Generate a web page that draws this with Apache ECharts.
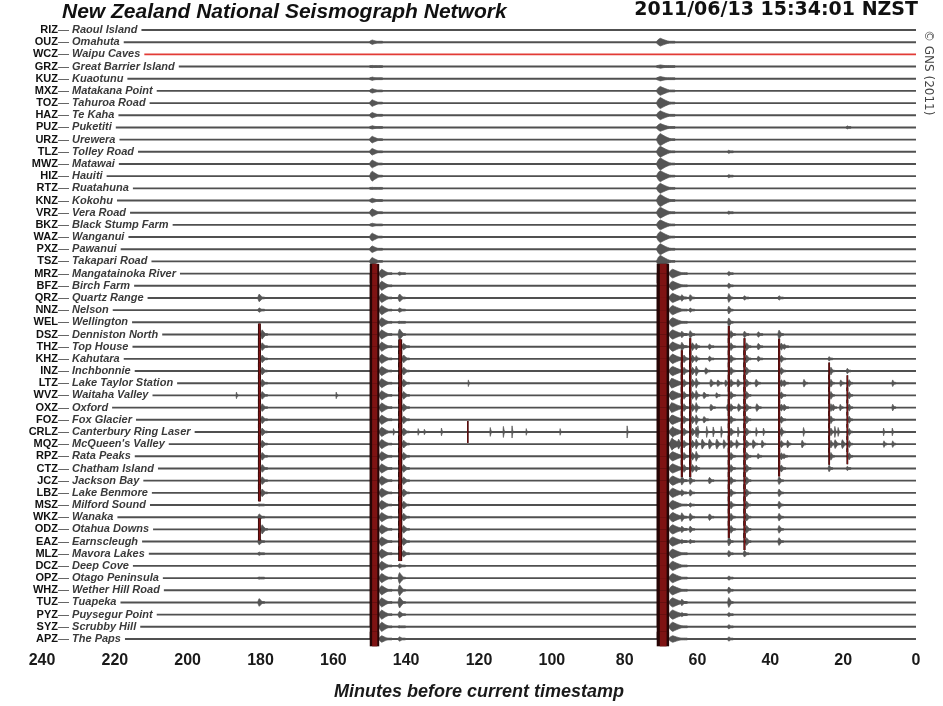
<!DOCTYPE html>
<html><head><meta charset="utf-8">
<script src="https://cdn.jsdelivr.net/npm/echarts@6/dist/echarts.min.js"></script>
<style>html,body{margin:0;padding:0;background:#fff}#c{width:943px;height:706px}</style>
</head><body><div id="c"></div>
<script>
const stations = ['RIZ','OUZ','WCZ','GRZ','KUZ','MXZ','TOZ','HAZ','PUZ','URZ','TLZ','MWZ','HIZ','RTZ','KNZ','VRZ','BKZ','WAZ','PXZ','TSZ','MRZ','BFZ','QRZ','NNZ','WEL','DSZ','THZ','KHZ','INZ','LTZ','WVZ','OXZ','FOZ','CRLZ','MQZ','RPZ','CTZ','JCZ','LBZ','MSZ','WKZ','ODZ','EAZ','MLZ','DCZ','OPZ','WHZ','TUZ','PYZ','SYZ','APZ'];
const stationNames = ['Raoul Island','Omahuta','Waipu Caves','Great Barrier Island','Kuaotunu','Matakana Point','Tahuroa Road','Te Kaha','Puketiti','Urewera','Tolley Road','Matawai','Hauiti','Ruatahuna','Kokohu','Vera Road','Black Stump Farm','Wanganui','Pawanui','Takapari Road','Mangatainoka River','Birch Farm','Quartz Range','Nelson','Wellington','Denniston North','Top House','Kahutara','Inchbonnie','Lake Taylor Station','Waitaha Valley','Oxford','Fox Glacier','Canterbury Ring Laser',"McQueen's Valley",'Rata Peaks','Chatham Island','Jackson Bay','Lake Benmore','Milford Sound','Wanaka','Otahua Downs','Earnscleugh','Mavora Lakes','Deep Cove','Otago Peninsula','Wether Hill Road','Tuapeka','Puysegur Point','Scrubby Hill','The Paps'];

// regional quakes: onset (minutes before timestamp), clipped duration, coda duration
const quakeOnsets   = [180.7, 150, 142.2, 71.2, 64.6, 62.3, 60.6, 51.7, 47.4, 37.9, 24.1, 19.1];
const clipDurations = [0.8, 2.6, 1.1, 3.4, 0.6, 0.6, 0.5, 0.6, 0.6, 0.6, 0.5, 0.5];
const codaDurations = [1.8, 3.5, 2, 5, 1.5, 1.5, 1.2, 1.5, 1.5, 1.5, 1.2, 1.2];

// amplitude per station (in trace spacings), order as stations
const amp180 = [0,0,0,0,0,0,0,0,0,0, 0,0,0,0,0,0,0,0,0,0, 0,0,.35,.2,0,.9,.7,.7,.7,.7, .7,.7,.7,.7,.7,.7,.7,.7,.7,.1, .3,.9,.3,.15,0,.1,0,.35,0,0, 0];
const amp150 = [0,.2,0,.1,.15,.2,.3,.25,.15,.3, .3,.35,.45,.1,.2,.35,.15,.35,.3,.35, .8,1,1,1,1,1,1,1,1,1, 1,1,1,1,1,1,1,1,1,1, 1,1,1,1,1,1,1,1,1,1, .6];
const amp142 = [0,0,0,0,0,0,0,0,0,0, 0,0,0,0,0,0,0,0,0,0, .15,0,.35,.2,.1,.5,.6,.7,.7,.7, .7,.7,.7,.7,.7,.7,.7,.7,.7,.7, .7,.7,.7,.6,.2,.5,.5,.5,.3,.1, .2];
const amp71  = [0,.35,0,.15,.2,.4,.5,.4,.35,.55, .5,.55,.5,.45,.55,.5,.45,.5,.5,.55, .8,1,1,1,1,1,1,1,1,1, 1,1,1,1,1,1,1,1,1,1, 1,1,1,1,1,1,1,1,1,1, .6];
const amp65  = [0,0,0,0,0,0,0,0,0,0, 0,0,0,0,0,0,0,0,0,0, 0,0,.3,0,0,.3,.4,.7,.7,.7, .7,.7,.7,.7,.7,.7,.7,.4,.3,0, .4,.3,.2,0,0,0,0,.3,.2,0, 0];
const amp62  = [0,0,0,0,0,0,0,0,0,0, 0,0,0,0,0,0,0,0,0,0, 0,0,.3,.2,0,.35,.7,.7,.7,.7, .7,.7,.7,.7,.7,.7,.7,.35,.3,.2, .35,.3,.2,0,0,0,0,0,0,0, 0];
const amp61  = [0,0,0,0,0,0,0,0,0,0, 0,0,0,0,0,0,0,0,0,0, 0,0,0,0,0,0,.3,.3,.45,.45, .45,.45,.45,.45,.45,.45,.3,0,0,0, 0,0,0,0,0,0,0,0,0,0, 0];
const amp52  = [0,0,0,0,0,0,0,0,0,0, .15,0,.15,0,0,.15,0,0,0,0, .2,.25,.4,.35,.4,.7,.7,.7,.7,.7, .7,.7,.7,.7,.7,.7,.7,.7,.7,.7, .7,.7,.4,.3,0,.2,.3,.45,.2,.2, .2];
const amp47  = [0,0,0,0,0,0,0,0,0,0, 0,0,0,0,0,0,0,0,0,0, 0,0,.2,0,0,.3,.7,.7,.7,.7, .7,.7,.7,.7,.7,.7,.7,.7,.7,.7, .7,.7,.7,.3,0,0,0,0,0,0, 0];
const amp38  = [0,0,0,0,0,0,0,0,0,0, 0,0,0,0,0,0,0,0,0,0, 0,0,.2,0,0,.4,.65,.65,.65,.65, .65,.65,.65,.65,.65,.65,.65,.35,.35,.35, .35,.35,.35,0,0,0,0,0,0,0, 0];
const amp24  = [0,0,0,0,0,0,0,0,0,0, 0,0,0,0,0,0,0,0,0,0, 0,0,0,0,0,0,0,.2,.7,.7, .7,.7,.7,.7,.7,.7,.3,0,0,0, 0,0,0,0,0,0,0,0,0,0, 0];
const amp19  = [0,0,0,0,0,0,0,0,.15,0, 0,0,0,0,0,0,0,0,0,0, 0,0,0,0,0,0,0,0,.25,.65, .65,.65,.65,.65,.65,.65,.2,0,0,0, 0,0,0,0,0,0,0,0,0,0, 0];
const quakeAmplitudes = [amp180, amp150, amp142, amp71, amp65, amp62, amp61, amp52, amp47, amp38, amp24, amp19];

// local events: [station index, minutes before, amplitude, duration]
const localEvents = [
  [30,186.7,.3,.5],[30,159.3,.3,.5],[29,123,.3,.4],
  [33,146.4,.3,.6],[33,143.6,.3,.6],[33,136.8,.3,.5],[33,135.1,.25,.5],[33,130.4,.35,.5],[33,123.3,.9,.5],
  [33,117,.4,.5],[33,113.4,.5,.5],[33,111,.55,.4],[33,107.1,.3,.4],[33,97.8,.3,.4],[33,79.4,.55,.4],
  [22,67,.35,2],[25,67,.3,2],[25,43.6,.25,1.5],
  [26,67.3,.4,2.5],[26,57,.25,1.5],[26,43.6,.3,1.5],[26,36.5,.25,1.5],
  [27,67.3,.4,2.5],[27,57,.25,1.5],[27,43.6,.25,1.5],
  [28,67.5,.35,2],[28,58,.3,1.5],
  [29,67.5,.45,2],[29,56.6,.35,1.5],[29,54.7,.3,1.5],[29,52.5,.3,1.2],[29,49.2,.35,1.5],[29,44.2,.35,1.5],[29,36.5,.3,1.5],[29,31,.35,1.2],[29,20.9,.3,1.2],[29,6.6,.3,1],
  [30,67.5,.4,2],[30,58.5,.3,1.5],[30,55,.25,1.2],
  [31,67.5,.45,2],[31,56.6,.3,1.5],[31,52,.3,1.2],[31,49,.35,1.5],[31,44,.35,1.5],[31,36.5,.3,1.5],[31,23,.3,1.2],[31,21,.3,1],[31,6.6,.3,1],
  [32,67.5,.4,2],[32,58.5,.3,1.5],
  [33,67,.5,1],[33,60,.55,.5],[33,57.6,.5,.6],[33,55.8,.45,.6],[33,53.6,.5,.6],[33,49,.45,.6],[33,44,.4,.6],[33,42,.35,.6],[33,37,.4,.6],[33,31,.4,.6],[33,22.4,.5,.6],[33,21.5,.4,.6],[33,9,.35,.5],[33,6.6,.35,.5],
  [34,67.5,.55,2.5],[34,65.5,.45,1.5],[34,59,.45,1.5],[34,57,.45,1.5],[34,55,.45,1.5],[34,53,.4,1.2],[34,49.5,.4,1.2],[34,45,.4,1.5],[34,42.5,.35,1.2],[34,35.5,.35,1.2],[34,31.5,.35,1.2],[34,22.5,.4,1.5],[34,20.5,.4,1.5],[34,9,.3,1],[34,6.6,.3,1],
  [35,66.5,.3,1.5],[35,43.6,.25,1.2],[35,36.5,.25,1.2],
  [37,67,.4,2],[37,57,.3,1.5],[38,67,.35,2],[40,67,.4,2],[40,57,.3,1.5],[41,67,.35,2]
];

const titleText = 'New Zealand National Seismograph Network';
const stampText = '2011/06/13 15:34:01 NZST';
const creditText = '\u00A9 GNS (2011)';
const axisTitle = 'Minutes before current timestamp';

// build marks
const spindles = [], clips = [];
quakeAmplitudes.forEach((arr, q) => {
  arr.forEach((a, s) => {
    if (!a) return;
    if (a >= 0.6) {
      clips.push([quakeOnsets[q], s, a, clipDurations[q]]);
      spindles.push([quakeOnsets[q] - clipDurations[q], s, Math.min(0.42, a * 0.5), codaDurations[q]]);
    } else {
      spindles.push([quakeOnsets[q], s, a, codaDurations[q]]);
    }
  });
});
localEvents.forEach(([s, t, a, d]) => {
  if (a >= 0.6) clips.push([t, s, a, 0.4]);
  else spindles.push([t, s, a, d]);
});

const FONT = '"Liberation Sans", Arial, sans-serif';
const labelAxisBase = {
  type: 'value', min: 0, max: stations.length - 1, interval: 1, inverse: true, z: 10,
  position: 'left', offset: -16,
  axisLine: {show: false}, axisTick: {show: false}, splitLine: {show: false}
};

const chart = echarts.init(document.getElementById('c'), null, {renderer: 'canvas'});
chart.setOption({
  animation: false,
  backgroundColor: '#fff',
  grid: {left: 42, right: 27, top: 30, bottom: 64},
  xAxis: {
    type: 'value', min: 0, max: 240, interval: 20, inverse: true,
    axisLine: {show: false}, axisTick: {show: false}, splitLine: {show: false},
    axisLabel: {margin: 14, color: '#1a1a1a', fontSize: 16, fontWeight: 'bold', fontFamily: FONT, showMinLabel: true, showMaxLabel: true},
    name: axisTitle, nameLocation: 'middle', nameGap: 44,
    nameTextStyle: {fontSize: 18, fontWeight: 'bold', fontStyle: 'italic', color: '#1a1a1a', fontFamily: FONT}
  },
  yAxis: [
    Object.assign({}, labelAxisBase, {
      axisLabel: {
        align: 'left', margin: 0, backgroundColor: '#fff', padding: [0, 4, 0, 0],
        formatter: v => (Number.isInteger(v) && stations[v]) ? '{d|\u2014}{n| ' + stationNames[v] + '}' : '',
        rich: {
          d: {fontSize: 11, color: '#333', fontFamily: FONT},
          n: {fontSize: 11, fontWeight: 'bold', fontStyle: 'italic', color: '#3a3a3a', fontFamily: FONT}
        }
      }
    }),
    Object.assign({}, labelAxisBase, {
      axisLabel: {
        align: 'right', margin: 0, backgroundColor: '#fff',
        formatter: v => (Number.isInteger(v) && stations[v]) ? stations[v] : '',
        fontSize: 11, fontWeight: 'bold', color: '#111', fontFamily: FONT
      }
    })
  ],
  graphic: [
    {type: 'text', left: 62, top: 2, style: {text: titleText, font: 'italic bold 21px ' + FONT, fill: '#111'}},
    {type: 'text', right: 25, top: 1, style: {text: stampText, font: 'bold 19px "DejaVu Sans", sans-serif', fill: '#111'}},
    {type: 'text', x: 928, y: 30, rotation: -Math.PI / 2, style: {text: creditText, font: '12px "DejaVu Sans", sans-serif', fill: '#444', verticalAlign: 'middle', align: 'left'}}
  ],
  series: [
    {
      type: 'custom', z: 1, silent: true,
      data: stations.map((_, i) => [0, i]),
      renderItem: (params, api) => {
        const i = api.value(1);
        const p0 = api.coord([240, i]), p1 = api.coord([0, i]);
        const special = stations[i] === 'WCZ';
        return {type: 'line', shape: {x1: p0[0], y1: p0[1], x2: p1[0], y2: p1[1]},
          style: {stroke: special ? '#e23b36' : '#505050', lineWidth: special ? 1.6 : 1.9}};
      }
    },
    {
      type: 'custom', z: 2, silent: true, data: spindles,
      renderItem: (params, api) => {
        const t = api.value(0), s = api.value(1), a = api.value(2), d = api.value(3);
        const p0 = api.coord([t, s]);
        const p1 = api.coord([Math.max(t - d, 0), s]);
        const h = Math.abs(api.size([0, a])[1]);
        const L = p1[0] - p0[0];
        const x = p0[0], y = p0[1];
        const top = [], bottom = [];
        const n = 10;
        for (let k = 0; k <= n; k++) {
          const u = k / n;
          const env = u < 0.15 ? u / 0.15 : Math.pow((1 - u) / 0.85, 1.6);
          top.push([x + u * L, y - Math.max(env * h, 0.9)]);
          bottom.unshift([x + u * L, y + Math.max(env * h, 0.9)]);
        }
        return {type: 'polygon', shape: {points: top.concat(bottom)},
          style: {fill: '#555', stroke: '#555', lineWidth: 0.7}};
      }
    },
    {
      type: 'custom', z: 3, silent: true, data: clips,
      renderItem: (params, api) => {
        const t = api.value(0), s = api.value(1), a = api.value(2), w = api.value(3);
        const p0 = api.coord([t, s]);
        const p1 = api.coord([t - w, s]);
        const h = Math.abs(api.size([0, a])[1]);
        const width = Math.max(p1[0] - p0[0], 1.6);
        return {type: 'group', children: [
          {type: 'rect', shape: {x: p0[0], y: p0[1] - h, width: width, height: 2 * h}, style: {fill: '#260505'}},
          {type: 'rect', shape: {x: p0[0] + width * 0.25, y: p0[1] - h, width: width * 0.55, height: 2 * h}, style: {fill: '#7e1313'}}
        ]};
      }
    }
  ]
});
</script>
</body></html>
